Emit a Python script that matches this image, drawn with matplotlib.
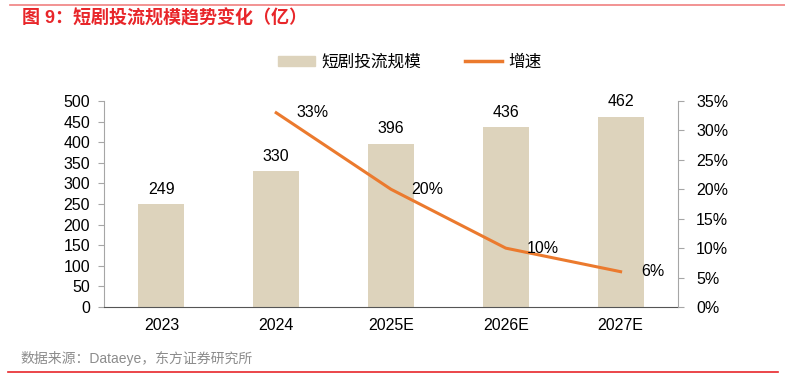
import matplotlib.pyplot as plt
import numpy as np
from matplotlib.lines import Line2D
from matplotlib.patches import Patch

plt.rcParams['font.family'] = ['Liberation Sans', 'Noto Sans CJK SC', 'DejaVu Sans']

years = ['2023', '2024', '2025E', '2026E', '2027E']
scale = [249, 330, 396, 436, 462]
growth_years = ['2024', '2025E', '2026E', '2027E']
growth = [33, 20, 10, 6]

bar_color = '#DDD3BC'
line_color = '#EB7A2E'
red = '#E8262A'

fig = plt.figure(figsize=(7.85, 3.85), dpi=100)
ax = fig.add_axes([104 / 785, 1 - 307 / 385, (678 - 104) / 785, (307 - 101) / 385])
ax2 = ax.twinx()

x = np.arange(len(years))
ax.bar(x, scale, width=0.4, color=bar_color, zorder=2)
for xi, v in zip(x, scale):
    ax.text(xi, v + 18, str(v), ha='center', va='bottom', fontsize=11.5)

gx = [years.index(y) for y in growth_years]
ax2.plot(gx, growth, color=line_color, lw=2.2, zorder=3)
for xi, v in zip(gx, growth):
    ax2.text(xi + 0.18, v, f'{v}%', ha='left', va='center', fontsize=11.5)

ax.set_xlim(-0.5, 4.5)
ax.set_ylim(0, 500)
ax.set_yticks(range(0, 501, 50))
ax2.set_ylim(0, 35)
ax2.set_yticks(range(0, 36, 5))
ax2.set_yticklabels([f'{t}%' for t in range(0, 36, 5)])
ax.set_xticks(x)
ax.set_xticklabels(years)

for a in (ax, ax2):
    for s in a.spines.values():
        s.set_visible(False)
    a.tick_params(labelsize=11.5, color='#A6A6A6', length=4, width=0.8, pad=6)
ax.spines['left'].set_visible(True)
ax.spines['bottom'].set_visible(True)
ax2.spines['right'].set_visible(True)
for s in (ax.spines['left'], ax.spines['bottom'], ax2.spines['right']):
    s.set_color('#A6A6A6')
    s.set_linewidth(0.8)
ax.spines['bottom'].set_color('#555555')
ax.tick_params(axis='x', length=0, pad=8)
ax2.tick_params(axis='y', pad=9)

handles = [Patch(color=bar_color), Line2D([0], [0], color=line_color, lw=2.5)]
fig.legend(handles, ['短剧投流规模', '增速'], loc='center', bbox_to_anchor=(410 / 785, 1 - 62 / 385),
           ncol=2, frameon=False, fontsize=12, handlelength=2.2, handleheight=0.6,
           columnspacing=2.6, handletextpad=0.4)

fig.add_artist(Line2D([10 / 785, 1], [1 - 5 / 385] * 2, color='#F08080', lw=1.2))
fig.text(22 / 785, 1 - 18 / 385, '图 9：短剧投流规模趋势变化（亿）', color=red, fontsize=13,
         fontweight='bold', ha='left', va='center')
fig.text(20 / 785, 1 - 359 / 385, '数据来源：Dataeye，东方证券研究所', color='#8C8C8C',
         fontsize=10, ha='left', va='center')
fig.add_artist(Line2D([8 / 785, 778 / 785], [1 - 372 / 385] * 2, color=red, lw=1.2))

fig.savefig('out.png', dpi=100)
